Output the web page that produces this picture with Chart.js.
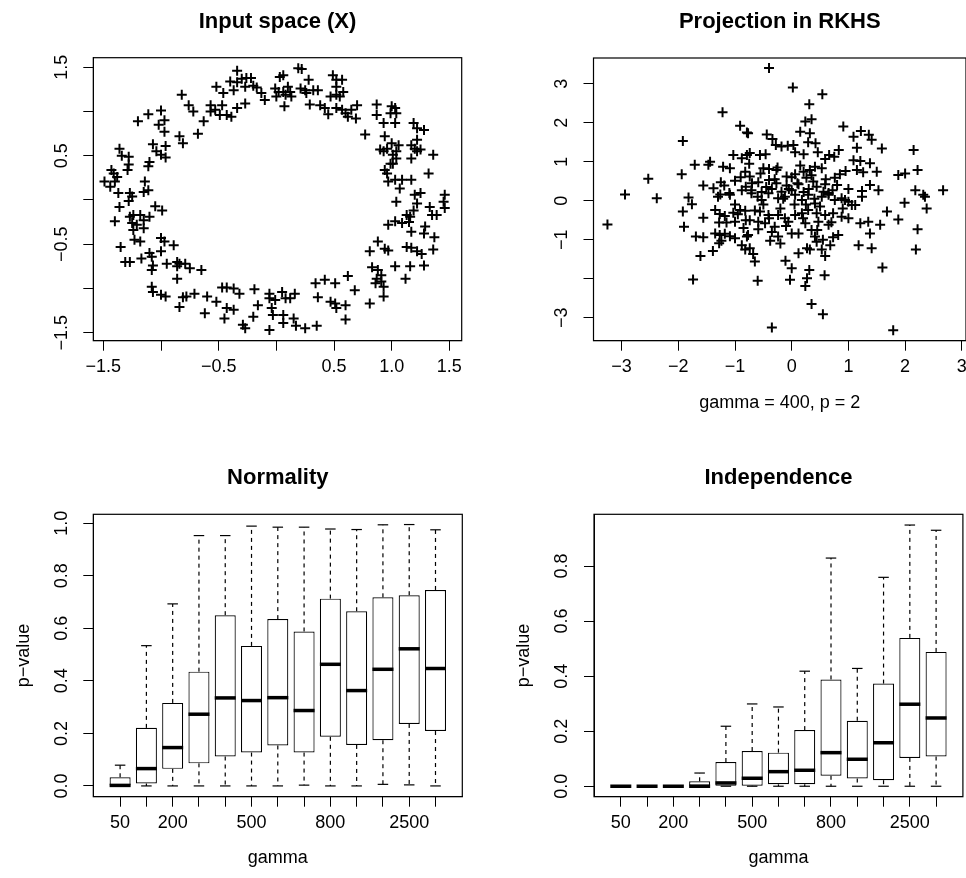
<!DOCTYPE html>
<html><head><meta charset="utf-8">
<script src="https://cdn.jsdelivr.net/npm/chart.js@4.4.1/dist/chart.umd.min.js"></script>
<style>
html,body{margin:0;padding:0;background:#fff;}
#wrap{position:relative;width:966px;height:878px;overflow:hidden;background:#fff;}
#wrap canvas{position:absolute;left:0;top:0;width:966px;height:878px;}
</style></head><body>
<div id="wrap">
<canvas id="cTL" width="966" height="878"></canvas>
<canvas id="cTR" width="966" height="878"></canvas>
<canvas id="cBL" width="966" height="878"></canvas>
<canvas id="cBR" width="966" height="878"></canvas>
</div>
<script>
// ---------------- DATA ----------------
// Input space (X): noisy ring (grouped by region)
const ringAX = [-0.34,-0.40,-0.34,-0.30,-0.26,-0.22,-0.27,-0.20,-0.17,-0.52,-0.46,-0.37,-0.13,-0.10,-0.27,-0.34,-0.82,-0.76,-0.72,-0.63,-0.68,-0.57,-0.53,-0.49,-0.47,-0.43,-0.39,-0.57,-1.20,-1.11,-1.00,-0.97,-1.02,-0.97,-0.84,-0.81,-0.96,-1.07,-1.04,-1.00,-0.96,-1.10,-1.11,-1.36,-1.34,-1.28,-1.28,-1.29,-1.43,-1.41,-1.38,-1.40,-1.49,-1.44,-1.37,-1.27,-1.14,-1.11,-1.15,-1.25];
const ringAY = [1.46,1.34,1.33,1.37,1.38,1.38,1.28,1.29,1.27,1.28,1.21,1.24,1.21,1.13,1.09,1.04,1.19,1.07,1.00,0.89,0.75,1.07,1.02,0.96,1.07,0.96,0.94,1.00,0.89,0.97,1.01,0.90,0.85,0.77,0.72,0.64,0.61,0.63,0.55,0.51,0.48,0.43,0.38,0.58,0.50,0.49,0.40,0.34,0.34,0.30,0.26,0.21,0.21,0.15,0.08,0.08,0.21,0.11,0.09,0.04];
const ringBX = [0.19,0.22,0.06,0.03,0.28,0.49,0.52,0.57,0.52,0.58,0.52,0.47,0.55,-0.01,0.02,0.06,0.08,0.10,0.12,0.13,0.00,0.07,0.21,0.25,0.26,0.32,0.36,0.29,0.38,0.42,0.45,0.52,0.57,0.60,0.62,0.65,0.69,0.70,0.87,0.87,0.93,1.00,1.03,1.04,0.99,1.03,0.77,0.94,0.90,0.93,0.96,1.00,1.06,1.04,1.01,0.99,1.01,0.94,0.96,1.04,1.19,1.28,1.22,1.22,1.17,1.20,1.25,1.22,1.17,1.36,1.32,0.97,1.03,1.09,1.17,1.07,1.20,1.25,1.46];
const ringBY = [1.49,1.48,1.41,1.39,1.36,1.41,1.36,1.36,1.28,1.22,1.19,1.17,1.17,1.26,1.22,1.22,1.19,1.28,1.22,1.17,1.17,1.06,1.26,1.24,1.21,1.24,1.24,1.08,1.07,1.04,0.97,1.04,1.02,0.98,0.94,1.02,0.92,1.07,1.08,0.96,0.87,1.06,1.04,0.98,0.98,0.87,0.74,0.72,0.57,0.55,0.58,0.64,0.62,0.55,0.51,0.41,0.41,0.34,0.30,0.47,0.87,0.79,0.81,0.68,0.62,0.58,0.57,0.55,0.47,0.51,0.30,0.21,0.23,0.23,0.23,0.13,0.06,0.08,0.06];
const ringCX = [-1.28,-1.36,-1.05,-0.99,-1.40,-1.27,-1.24,-1.18,-1.15,-1.10,-1.25,-1.21,-1.24,-1.15,-1.23,-1.18,-1.00,-0.97,-0.89,-1.35,-1.31,-1.27,-1.17,-1.10,-1.08,-1.00,-1.08,-1.07,-0.95,-0.86,-0.86,-0.84,-0.79,-0.75,-0.65,-0.86,-1.08,-1.07,-1.00,-0.96,-0.84,-0.81,-0.78,-0.71,-0.60,-0.52,-0.62,-0.47,-0.43,-0.37,-0.32,-0.19,-0.43,-0.37,-0.45,-0.29,-0.27,-0.20,-0.06,-0.06,-0.01,-0.04,-0.03,-0.06,-0.16];
const ringCY = [-0.01,-0.08,-0.07,-0.12,-0.24,-0.19,-0.17,-0.17,-0.23,-0.19,-0.26,-0.28,-0.34,-0.32,-0.45,-0.47,-0.43,-0.47,-0.51,-0.53,-0.70,-0.70,-0.66,-0.60,-0.64,-0.58,-0.79,-0.74,-0.72,-0.70,-0.75,-0.72,-0.72,-0.77,-0.79,-0.89,-0.98,-1.04,-1.07,-1.09,-1.21,-1.10,-1.09,-1.06,-1.09,-1.15,-1.28,-0.99,-0.99,-1.00,-1.06,-1.01,-1.22,-1.24,-1.34,-1.41,-1.45,-1.32,-1.06,-1.11,-1.13,-1.22,-1.30,-1.47,-1.19];
const ringDX = [0.05,0.08,0.12,0.16,0.06,0.06,0.15,0.17,0.25,0.35,0.34,0.42,0.51,0.62,0.68,0.36,0.47,0.51,0.60,0.52,0.60,0.81,0.83,0.88,0.91,0.87,0.91,0.86,0.93,0.93,1.03,1.12,0.81,0.88,0.94,0.97,1.16,1.28,1.36,1.13,1.17,1.22,1.26,1.37,1.28,1.17,1.29,0.97,1.03,1.09,1.15,1.16,1.19,1.13,1.22,1.04,1.35,1.39,1.33,1.45,1.46];
const ringDY = [-1.04,-1.11,-1.11,-1.06,-1.30,-1.39,-1.34,-1.42,-1.45,-1.42,-0.94,-0.90,-0.94,-0.86,-1.02,-1.10,-1.15,-1.17,-1.19,-1.22,-1.35,-1.17,-0.76,-0.79,-0.85,-0.89,-0.92,-0.94,-0.98,-1.09,-0.75,-0.89,-0.58,-0.47,-0.55,-0.57,-0.75,-0.74,-0.56,-0.53,-0.54,-0.58,-0.61,-0.42,-0.38,-0.36,-0.30,-0.28,-0.24,-0.26,-0.25,-0.19,-0.12,-0.17,-0.04,-0.02,-0.17,-0.17,-0.08,-0.02,-0.09];

// Projection in RKHS: cloud (grouped by region)
const projAX = [-1.22,-0.91,-0.79,-1.92,-1.03,-0.88,-0.79,-1.71,-1.44,-1.47,-1.21,-1.09,-2.53,-1.94,-1.56,-1.38,-1.25,-1.19,-1.00,-0.88,-0.81,-2.94,-2.38,-1.82,-1.26,-1.09];
const projAY = [2.27,1.92,1.75,1.53,1.17,1.09,1.17,0.92,1.00,0.92,0.87,0.83,0.56,0.68,0.39,0.32,0.47,0.39,0.51,0.27,0.36,0.16,0.06,0.08,0.16,0.15];
const projBX = [-1.76,-3.25,-1.92,-1.90,-1.56,-1.69,-1.56,-1.61,-1.39,-1.74,-1.35,-1.27,-1.18,-1.28,-1.15,-1.00,-1.03,-0.91,-0.82,-0.81,-1.35,-1.27,-1.18,-1.09,-1.00,-1.24,-1.28,-0.88,-0.82,-0.79];
const projBY = [-0.09,-0.61,-0.28,-0.67,-0.44,-0.92,-0.94,-1.42,-1.29,-2.02,-0.24,-0.34,-0.39,-0.56,-0.56,-0.54,-0.31,-0.24,-0.26,-0.50,-0.84,-0.88,-0.85,-0.91,-0.96,-1.03,-1.09,-1.14,-1.25,-0.92];
const projCX = [-0.40,0.02,0.54,0.31,0.24,0.35,0.15,0.32,0.29,0.42,0.46,-0.77,-0.44,-0.34,-0.28,-0.18,-0.07,0.03,0.06,0.21,0.91,1.09,1.22,1.36,1.41,1.15,1.59,0.83,0.66,0.59,0.75,2.15,2.22,1.88,2.00,1.09,1.21,1.38,1.50,1.26,1.15,0.95,0.85,0.76,0.53,0.41,0.32,-0.74,-0.56,-0.46,-0.82,-0.74,-0.50,-0.40,-0.27,-0.09,0.06,0.21,0.26,0.38,-0.59,-0.40,-0.27,-0.09,0.12,-0.71,-0.53,-0.35,-0.18,0.00,0.21,0.44,0.59,0.72,0.56,1.24,1.38,1.53,2.18,2.32,2.67];
const projCY = [3.40,2.90,2.73,2.47,2.03,2.09,1.77,1.73,1.50,1.47,1.24,1.73,1.70,1.58,1.43,1.39,1.41,1.43,1.24,1.19,1.90,1.64,1.79,1.69,1.56,1.36,1.34,1.30,1.17,1.07,1.13,1.30,0.79,0.66,0.70,1.04,1.02,0.96,0.74,0.73,0.79,0.76,0.68,0.59,0.83,0.87,0.79,1.22,1.17,1.19,0.74,0.62,0.83,0.81,0.79,0.62,0.68,0.74,0.59,0.49,0.47,0.53,0.45,0.39,0.42,0.27,0.22,0.30,0.23,0.27,0.22,0.36,0.42,0.27,0.23,0.25,0.40,0.27,0.27,0.15,0.27];
const projDX = [2.35,2.38,1.99,1.68,1.88,2.22,2.19,1.60,1.79,1.56,1.38,1.18,1.41,1.21,1.35,1.24,1.06,0.94,-0.35,0.35,0.55,-0.60,-0.03,0.24,0.27,0.31,0.58,-0.11,0.00,0.12,0.27,0.32,0.59,-0.77,-0.74,-0.68,-0.65,-0.38,-0.24,-0.59,0.00,0.12,0.35,0.41,0.44,0.65,0.73,0.82,0.53,0.68,-0.71,-0.53,-0.41,-0.24,-0.12,0.06,0.18,0.29,0.41,0.53,0.65,0.76,0.88,1.00,1.12,-0.56,-0.41,-0.24,-0.12,0.06,0.18,0.29,0.44,0.59,0.73,0.88,1.00,-0.74,-0.59,-0.47,-0.30,-0.06,0.24,0.47];
const projDY = [0.10,-0.20,-0.05,-0.28,-0.48,-0.73,-1.25,-1.71,-3.32,-0.62,-0.84,-1.14,-1.22,-0.58,-0.54,0.10,-0.11,0.02,-3.25,-2.65,-2.91,-2.05,-2.03,-2.19,-1.99,-1.78,-1.91,-1.54,-1.73,-1.35,-1.22,-1.25,-1.42,-0.88,-1.22,-1.37,-1.56,-1.03,-0.92,-0.73,-0.84,-0.84,-0.75,-0.92,-1.05,-0.62,-0.94,-0.88,-1.25,-1.14,0.19,0.02,0.19,0.06,0.10,0.15,0.02,0.15,-0.07,0.10,0.15,0.02,0.06,-0.03,-0.11,-0.28,-0.37,-0.37,-0.45,-0.37,-0.32,-0.24,-0.32,-0.37,-0.32,-0.41,-0.45,-0.50,-0.54,-0.58,-0.67,-0.54,-0.58,-0.54];
const projEX = [-0.90,-0.70,-0.60,-0.50,-0.45,-0.30,-0.20,-0.15,-0.05,0.05,0.10,0.20,0.30,0.40,0.50,0.60,0.70,0.80,0.90,-1.00,-1.10,-0.85,-0.65,-0.35,-0.25,0.15,0.45,-0.75,-0.40,0.25,0.65,-0.10,0.00,-0.55,0.35,-0.95,1.00,-1.30,-0.20,0.55];
const projEY = [0.60,0.45,0.10,-0.10,0.35,0.55,-0.20,0.05,0.30,-0.10,0.45,-0.45,0.30,0.05,-0.15,0.55,-0.55,0.40,-0.20,-0.10,0.20,-0.70,-0.25,-0.80,0.85,0.90,-0.75,0.95,-0.45,-0.10,0.20,-0.65,0.60,0.70,0.65,-0.35,0.30,0.10,-1.10,-1.00];

// Box plots: gamma categories (only the labels R printed)
const gammaTickLabels = ['50','','200','','','500','','','800','','','2500',''];
const boxPositions = [1,2,3,4,5,6,7,8,9,10,11,12,13];
// Normality p-values
const normLo  = [0,0,0,0,0,0,0,0.003,0,0,0.006,0.004,0];
const normQ1  = [0,0.009,0.065,0.086,0.112,0.127,0.154,0.127,0.187,0.156,0.174,0.236,0.209];
const normMed = [0.002,0.066,0.146,0.273,0.335,0.325,0.336,0.287,0.463,0.363,0.444,0.522,0.447];
const normQ3  = [0.033,0.221,0.316,0.435,0.650,0.533,0.635,0.588,0.713,0.665,0.718,0.726,0.746];
const normHi  = [0.079,0.534,0.693,0.953,0.953,0.989,0.985,0.985,0.978,0.976,0.994,0.995,0.975];
// Independence p-values
const indLo  = [0,0,0,0,0,0,0,0,0,0,0,0,0];
const indQ1  = [0,0,0,0,0,0.002,0.007,0.007,0.038,0.028,0.022,0.103,0.108];
const indMed = [0,0,0,0,0.012,0.029,0.053,0.058,0.122,0.098,0.158,0.298,0.248];
const indQ3  = [0,0,0,0.018,0.088,0.128,0.122,0.204,0.388,0.238,0.373,0.539,0.488];
const indHi  = [0,0,0,0.048,0.218,0.299,0.288,0.418,0.829,0.428,0.759,0.949,0.930];

// Tick values and labels
const tlTicks = [-1.5,-1,-0.5,0,0.5,1,1.5];
const tlXLabels = ['\u22121.5','','\u22120.5','','0.5','1.0','1.5'];
const tlYLabels = ['\u22121.5','','\u22120.5','','0.5','','1.5'];
const trTicks = [-3,-2,-1,0,1,2,3];
const trXLabels = ['\u22123','\u22122','\u22121','0','1','2','3'];
const trYLabels = ['\u22123','','\u22121','0','1','2','3'];
const normYTicks = [0,0.2,0.4,0.6,0.8,1.0];
const normYLabels = ['0.0','0.2','0.4','0.6','0.8','1.0'];
const indYTicks = [0,0.2,0.4,0.6,0.8];
const indYLabels = ['0.0','0.2','0.4','0.6','0.8'];

// ---------------- STYLE / LAYOUT ----------------
const FONT = "'Liberation Sans', Arial, Helvetica, sans-serif";
Chart.defaults.font.family = FONT;
Chart.defaults.color = '#000';
const TICK_SIZE = 18, TITLE_SIZE = 22, LAB_SIZE = 18, TICK_LEN = 10;
const YLAB_OFF = 31.5, XLAB_PAD = 5.2;

const mctx = document.createElement('canvas').getContext('2d');
function widest(labels){
  mctx.font = TICK_SIZE + 'px ' + FONT;
  return Math.max(0, ...labels.map(s => mctx.measureText(s).width));
}

const framePlugin = {
  id: 'frame',
  afterDraw(chart){
    const {ctx, chartArea: a} = chart;
    ctx.save();
    ctx.strokeStyle = '#000'; ctx.lineWidth = 1.2;
    ctx.strokeRect(a.left, a.top, a.right - a.left, a.bottom - a.top);
    ctx.restore();
  }
};

const boxPlugin = {
  id: 'boxes',
  afterDatasetsDraw(chart){
    const st = chart.options.plugins.boxes;
    if (!st || !st.q1) return;
    const xs = chart.scales.x, ys = chart.scales.y, ctx = chart.ctx;
    const hw = xs.getPixelForValue(1.4) - xs.getPixelForValue(1);
    const line = (x1,y1,x2,y2) => { ctx.beginPath(); ctx.moveTo(x1,y1); ctx.lineTo(x2,y2); ctx.stroke(); };
    ctx.save();
    ctx.strokeStyle = '#000';
    for (let i = 0; i < st.pos.length; i++){
      const x = xs.getPixelForValue(st.pos[i]);
      const pLo = ys.getPixelForValue(st.lo[i]), pQ1 = ys.getPixelForValue(st.q1[i]);
      const pQ3 = ys.getPixelForValue(st.q3[i]), pHi = ys.getPixelForValue(st.hi[i]);
      const pMed = ys.getPixelForValue(st.med[i]);
      ctx.lineWidth = 1.2;
      ctx.setLineDash([4,4]);
      if (pHi < pQ3) line(x, pQ3, x, pHi);
      if (pLo > pQ1) line(x, pQ1, x, pLo);
      ctx.setLineDash([]);
      line(x - hw/2, pHi, x + hw/2, pHi);
      line(x - hw/2, pLo, x + hw/2, pLo);
      ctx.lineWidth = 3.5;
      line(x - hw, pMed, x + hw, pMed);
    }
    ctx.restore();
  }
};

function zeroPad(s){ s.paddingLeft = 0; s.paddingRight = 0; s.paddingTop = 0; s.paddingBottom = 0; }

function axisX(min, max, tickVals, tickLabs, height, title, titlePadBottom){
  return {
    type: 'linear', position: 'bottom', min, max, bounds: 'data', offset: false,
    afterBuildTicks: s => { s.ticks = tickVals.map(v => ({value: v})); },
    afterFit: s => { s.height = height; zeroPad(s); },
    ticks: { callback: (v, i) => tickLabs[i], font: {size: TICK_SIZE}, color: '#000',
             padding: XLAB_PAD, minRotation: 0, maxRotation: 0, autoSkip: false },
    grid: { display: true, drawOnChartArea: false, drawTicks: true, tickLength: TICK_LEN,
            color: '#000', lineWidth: 1, offset: false },
    border: { display: true, color: '#000', width: 1 },
    title: title ? { display: true, text: title, font: {size: LAB_SIZE}, color: '#000',
                     padding: {top: 0, bottom: titlePadBottom} } : { display: false }
  };
}
function axisY(min, max, tickVals, tickLabs, width, title, titlePadTop){
  const w = widest(tickLabs);
  return {
    type: 'linear', position: 'left', min, max, bounds: 'data',
    afterBuildTicks: s => { s.ticks = tickVals.map(v => ({value: v})); },
    afterFit: s => { s.width = width; zeroPad(s); },
    ticks: { callback: (v, i) => tickLabs[i], font: {size: TICK_SIZE}, color: '#000',
             padding: YLAB_OFF - TICK_LEN - w/2, minRotation: 90, maxRotation: 90,
             crossAlign: 'center', autoSkip: false },
    grid: { display: true, drawOnChartArea: false, drawTicks: true, tickLength: TICK_LEN,
            color: '#000', lineWidth: 1 },
    border: { display: true, color: '#000', width: 1 },
    title: title ? { display: true, text: title, font: {size: LAB_SIZE}, color: '#000',
                     padding: {top: titlePadTop, bottom: 0} } : { display: false }
  };
}
function titleOpt(text, padTop, padBottom){
  return { display: true, text, fullSize: false, color: '#000',
           font: {size: TITLE_SIZE, weight: 'bold'}, padding: {top: padTop, bottom: padBottom} };
}
function pts(xs, ys){ return xs.map((x, i) => ({x, y: ys[i]})); }

function scatter(id, xs, ys, cfg){
  return new Chart(document.getElementById(id), {
    type: 'scatter',
    data: { datasets: [{ data: pts(xs, ys), pointStyle: 'cross', pointRadius: 5, pointHoverRadius: 5,
                         borderColor: '#000', backgroundColor: '#000', borderWidth: 2 }] },
    options: {
      responsive: false, animation: false, events: [],
      layout: { padding: cfg.pad, autoPadding: false },
      plugins: { legend: {display: false}, tooltip: {enabled: false}, title: cfg.title },
      scales: { x: cfg.x, y: cfg.y }
    },
    plugins: [framePlugin]
  });
}
function boxes(id, st, cfg){
  return new Chart(document.getElementById(id), {
    type: 'bar',
    data: { datasets: [{ data: st.pos.map((p, i) => ({x: p, y: [st.q1[i], st.q3[i]]})),
                         backgroundColor: '#fff', borderColor: '#000', borderWidth: 1.2,
                         borderSkipped: false, categoryPercentage: 1, barPercentage: 0.8 }] },
    options: {
      responsive: false, animation: false, events: [],
      layout: { padding: cfg.pad, autoPadding: false },
      plugins: { legend: {display: false}, tooltip: {enabled: false}, title: cfg.title, boxes: st },
      scales: { x: cfg.x, y: cfg.y }
    },
    plugins: [boxPlugin, framePlugin]
  });
}

// ---------------- CHARTS ----------------
scatter('cTL', [...ringAX, ...ringBX, ...ringCX, ...ringDX], [...ringAY, ...ringBY, ...ringCY, ...ringDY], {
  pad: {left: 0, right: 504.3, top: 0, bottom: 438},
  title: titleOpt('Input space (X)', 8.8, 22.5),
  x: axisX(-1.587, 1.607, tlTicks, tlXLabels, 99.3, null, 0),
  y: axisY(-1.59, 1.608, tlTicks, tlYLabels, 93.3, null, 0)
});
scatter('cTR', [...projAX, ...projBX, ...projCX, ...projDX, ...projEX], [...projAY, ...projBY, ...projCY, ...projDY, ...projEY], {
  pad: {left: 500.5, right: 0, top: 0, bottom: 438},
  title: titleOpt('Projection in RKHS', 8.8, 22.8),
  x: axisX(-3.496, 3.074, trTicks, trXLabels, 99.3, 'gamma = 400, p = 2', 26.2),
  y: axisY(-3.59, 3.659, trTicks, trYLabels, 93, null, 0)
});
boxes('cBL', {pos: boxPositions, lo: normLo, q1: normQ1, med: normMed, q3: normQ3, hi: normHi}, {
  pad: {left: 0, right: 503.7, top: 440, bottom: 0},
  title: titleOpt('Normality', 24.8, 23.1),
  x: axisX(-0.02, 14.02, boxPositions, gammaTickLabels, 81.3, 'gamma', 9.2),
  y: axisY(-0.041, 1.034, normYTicks, normYLabels, 93.3, 'p\u2212value', 13.2)
});
boxes('cBR', {pos: boxPositions, lo: indLo, q1: indQ1, med: indMed, q3: indQ3, hi: indHi}, {
  pad: {left: 500.5, right: 3.1, top: 440, bottom: 0},
  title: titleOpt('Independence', 24.8, 23.1),
  x: axisX(-0.02, 14.02, boxPositions, gammaTickLabels, 81.3, 'gamma', 9.2),
  y: axisY(-0.038, 0.988, indYTicks, indYLabels, 93.5, 'p\u2212value', 13.2)
});
</script>
</body></html>
